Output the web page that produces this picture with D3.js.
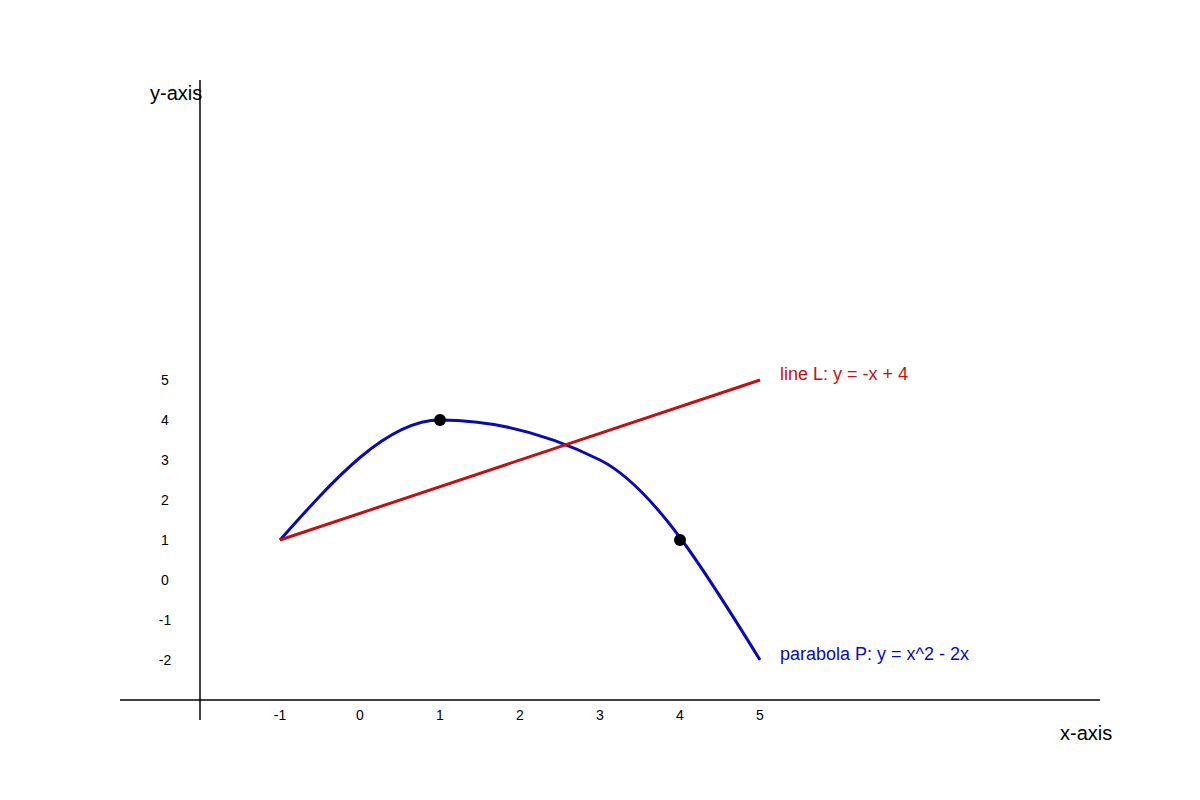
<!DOCTYPE html>
<html><head><meta charset="utf-8">
<script src="https://cdn.jsdelivr.net/npm/d3@7"></script>
<style>body{margin:0;background:#fff}text{font-family:"Liberation Sans",Arial,sans-serif}</style>
</head><body><svg id="c" width="1200" height="800"></svg>
<script>
const xTicks = [-1,0,1,2,3,4,5];
const yTicks = [5,4,3,2,1,0,-1,-2];
const parabolaPts = [[-1,1],[1,4],[3,3],[5,-2]];
const linePts = [[-1,1],[5,5]];
const dots = [[1,4],[4,1]];
const svg = d3.select("#c");
const x = d3.scaleLinear().domain([-1,5]).range([280,760]);
const y = d3.scaleLinear().domain([0,5]).range([580,380]);
// axes
svg.append("line").attr("x1",120).attr("x2",1100).attr("y1",700).attr("y2",700).attr("stroke","#000").attr("stroke-width",1.5);
svg.append("line").attr("x1",200).attr("x2",200).attr("y1",80).attr("y2",720).attr("stroke","#000").attr("stroke-width",1.5);
svg.selectAll(".xt").data(xTicks).join("text").attr("x",d=>x(d)).attr("y",720).attr("text-anchor","middle").attr("font-size",14).text(d=>d);
svg.selectAll(".yt").data(yTicks).join("text").attr("x",165).attr("y",d=>y(d)+5).attr("text-anchor","middle").attr("font-size",14).text(d=>d);
svg.append("text").attr("x",150).attr("y",100).attr("font-size",20).text("y-axis");
svg.append("text").attr("x",1060).attr("y",740).attr("font-size",20).text("x-axis");
const gen = d3.line().x(d=>x(d[0])).y(d=>y(d[1]));
svg.append("path").attr("d",gen.curve(d3.curveMonotoneX)(parabolaPts)).attr("fill","none").attr("stroke","#0a0ab4").attr("stroke-width",3);
svg.append("path").attr("d",d3.line().x(d=>x(d[0])).y(d=>y(d[1]))(linePts)).attr("fill","none").attr("stroke","#c41010").attr("stroke-width",3);
svg.selectAll(".dot").data(dots).join("circle").attr("cx",d=>x(d[0])).attr("cy",d=>y(d[1])).attr("r",6).attr("fill","#000");
svg.append("text").attr("x",780).attr("y",380).attr("font-size",18).attr("fill","#c41010").text("line L: y = -x + 4");
svg.append("text").attr("x",780).attr("y",660).attr("font-size",18).attr("fill","#0a0ab4").text("parabola P: y = x^2 - 2x");
</script></body></html>
